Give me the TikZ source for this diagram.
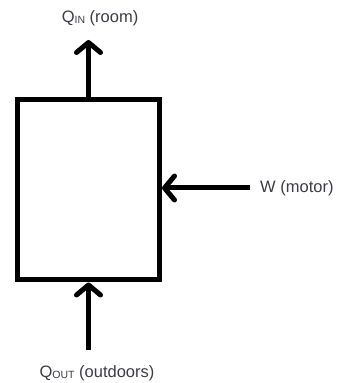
\documentclass[tikz,border=0pt]{standalone}
\usepackage{fontspec}
\setmainfont{Liberation Sans}
\usetikzlibrary{arrows.meta}
\definecolor{labelgray}{RGB}{60,60,70}
\newcommand{\smallsub}[1]{\raisebox{-1.5pt}{\fontsize{10.5}{11}\selectfont #1}}
\begin{document}
\begin{tikzpicture}[x=1pt, y=1pt,
    every node/.style={font=\fontsize{16.5}{17}\selectfont, text=labelgray, inner sep=0pt},
    flow/.style={line width=5pt, -{Straight Barb[length=10pt, width=24pt, round]}}]
    \useasboundingbox (0,0) rectangle (337,383);
    \node[draw=black, line width=5pt, minimum width=142pt, minimum height=180pt] (pump) at (88.5,193) {};
    \coordinate (topend) at (88.5,343);
    \coordinate (wtail) at (250,195);
    \coordinate (bottail) at (88.5,33);
    \draw[flow] (pump.north) -- (topend);
    \draw[flow] (wtail) -- (wtail -| pump.east);
    \draw[flow] (bottail) -- (pump.south);
    \node (qin) at (100,365) {Q\smallsub{IN} (room)};
    \node[anchor=west] (work) at (260,195) {W (motor)};
    \node (qout) at (97,10) {Q\smallsub{OUT} (outdoors)};
\end{tikzpicture}
\end{document}
